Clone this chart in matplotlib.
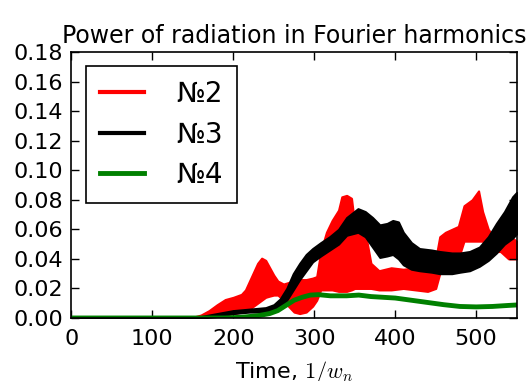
import numpy as np
import matplotlib
matplotlib.use("Agg")
import matplotlib.pyplot as plt

plt.rcParams.update({'font.family': 'DejaVu Sans', 'mathtext.fontset': 'cm'})

# harmonic No2 (red) - envelope of the fast oscillation
t_red = [0, 140, 150, 160, 170, 180, 190, 200, 210, 215, 220, 225, 230, 235, 240, 245, 250, 255,
         262, 268, 275, 282, 290, 298, 303, 308, 315, 322, 330, 334, 340, 346, 350, 358, 365, 370,
         380, 395, 410, 425, 440, 450, 455, 462, 470, 478, 485, 495, 503, 508, 515, 522, 530, 540, 550]
red_hi = [0, 0, .0005, .002, .005, .009, .0125, .014, .016, .019, .025, .031, .037, .0405, .039, .034, .029, .025,
          .023, .024, .025, .026, .026, .027, .028, .045, .058, .066, .073, .082, .083, .081, .063, .059, .052, .037,
          .032, .034, .033, .034, .035, .040, .055, .058, .060, .062, .076, .080, .086, .072, .060, .055, .058, .056, .052]
red_lo = [0, 0, 0, .0003, .001, .002, .002, .003, .004, .005, .006, .008, .010, .012, .014, .0148, .0155, .0155,
          .012, .008, .004, .003, .004, .008, .012, .019, .019, .019, .018, .018, .018, .019, .020, .020, .020, .020,
          .019, .019, .020, .019, .018, .020, .030, .040, .040, .040, .052, .052, .052, .052, .045, .045, .045, .040, .040]

# harmonic No3 (black)
t_blk = [0, 140, 160, 180, 200, 220, 240, 250, 258, 266, 274, 282, 290, 298, 308, 319, 330, 340,
         354, 363, 372, 381, 390, 397, 404, 410, 420, 430, 445, 455, 470, 480, 492, 504, 515, 525,
         535, 545, 550]
blk_hi = [0, 0, .001, .003, .005, .006, .007, .009, .013, .020, .030, .037, .043, .047, .051, .055, .060, .068,
          .074, .072, .068, .063, .064, .066, .065, .058, .051, .047, .046, .045, .044, .044, .045, .048, .055, .064,
          .072, .082, .085]
blk_lo = [0, 0, 0, .001, .003, .004, .004, .005, .007, .012, .019, .026, .032, .038, .042, .046, .050, .056,
          .058, .055, .048, .041, .042, .043, .040, .036, .033, .032, .031, .030, .030, .031, .032, .035, .039, .044,
          .050, .054, .057]

# harmonic No4 (green)
t_grn = [0, 190, 210, 230, 245, 255, 265, 275, 285, 295, 305, 320, 340, 355, 370, 385, 400, 420,
         440, 460, 480, 500, 520, 540, 550]
grn = [0, 0, .0005, .0015, .003, .005, .0085, .012, .014, .0155, .0158, .015, .015, .0155, .0145, .014,
       .0135, .012, .0105, .009, .0078, .0075, .0078, .0085, .0088]

fig = plt.figure(figsize=(5.29, 3.81), dpi=100)
ax = fig.add_axes([0.135, 0.1654, 0.8416, 0.698])

ax.fill_between(t_red, red_lo, red_hi, color='red', lw=1.5, edgecolor='red')
ax.plot([], [], color='red', lw=3, label='№2')
ax.fill_between(t_blk, blk_lo, blk_hi, color='black', lw=1.5, edgecolor='black')
ax.plot([], [], color='black', lw=3, label='№3')
ax.plot(t_grn, grn, color='green', lw=3.5, label='№4')

ax.set_xlim(0, 550)
ax.set_ylim(0, 0.18)
ax.set_xticks([0, 100, 200, 300, 400, 500])
ax.set_yticks(np.arange(0, 0.181, 0.02))
ax.yaxis.set_major_formatter(matplotlib.ticker.FormatStrFormatter('%.2f'))
ax.tick_params(direction='in', top=True, right=True, length=6, width=1, labelsize=16)
ax.tick_params(axis='x', pad=8)
ax.tick_params(axis='y', pad=6)
for s in ax.spines.values():
    s.set_linewidth(1.2)

ax.set_title("Power of radiation in Fourier harmonics", fontsize=17, pad=6.5)
ax.set_xlabel("Time, $1/w_n$", fontsize=16, labelpad=7)

ax.legend(loc='upper left', bbox_to_anchor=(0.033, 0.947), borderaxespad=0, fontsize=20,
          fancybox=False, edgecolor='black', framealpha=1, handlelength=1.6, labelspacing=0.45,
          handletextpad=1.15, borderpad=0.5)
ax.get_legend().get_frame().set_linewidth(1.2)

plt.savefig("out.png", dpi=100)
